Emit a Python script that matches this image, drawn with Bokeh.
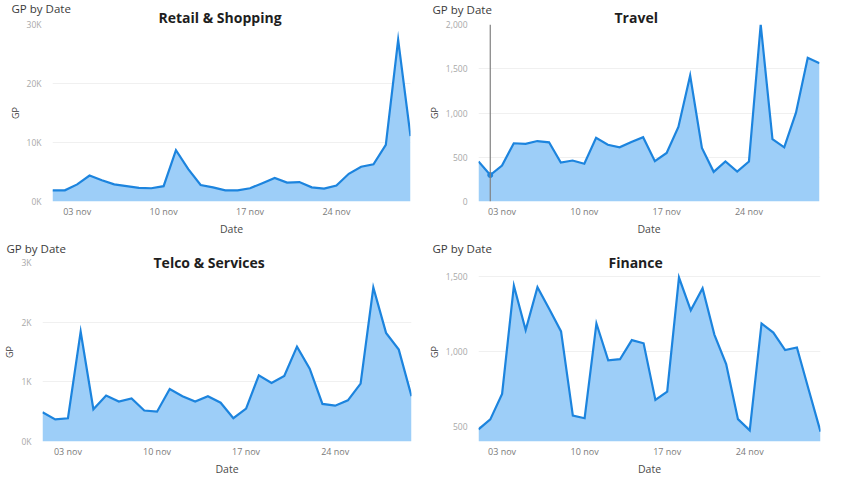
from bokeh.plotting import figure
from bokeh.layouts import column, row, Spacer
from bokeh.models import Range1d, FixedTicker, Span, Title
from bokeh.embed import file_html
from bokeh.resources import INLINE

# ---------------- data ----------------
days = list(range(1, 31))  # 1..30 November
xtick_days = [3, 10, 17, 24]
xtick_labels = ["03 nov", "10 nov", "17 nov", "24 nov"]

retail_gp = [1900, 1900, 2900, 4400, 3600, 2900, 2600, 2300, 2250, 2600,
             8700, 5500, 2800, 2400, 1900, 1900, 2250, 3100, 4000, 3200,
             3300, 2400, 2200, 2700, 4700, 5900, 6300, 9600, 27400, 11100]
travel_gp = [452, 299, 406, 658, 651, 683, 669, 441, 463, 427,
             719, 641, 612, 673, 726, 456, 548, 843, 1423, 605,
             335, 452, 338, 452, 2000, 705, 612, 1004, 1623, 1562]
telco_gp = [490, 370, 390, 1840, 540, 770, 670, 720, 520, 500,
            880, 760, 670, 760, 650, 390, 550, 1110, 980, 1100,
            1590, 1220, 630, 600, 690, 970, 2580, 1820, 1540, 760]
finance_gp = [479, 545, 715, 1436, 1140, 1425, 1280, 1131, 570, 553,
              1184, 939, 946, 1073, 1052, 675, 730, 1490, 1272, 1419,
              1110, 914, 547, 472, 1184, 1123, 1007, 1024, 743, 464]

retail_yticks = [0, 10000, 20000, 30000]
retail_ylabels = ["0K", "10K", "20K", "30K"]
travel_yticks = [0, 500, 1000, 1500, 2000]
travel_ylabels = ["0", "500", "1,000", "1,500", "2,000"]
telco_yticks = [0, 1000, 2000, 3000]
telco_ylabels = ["0K", "1K", "2K", "3K"]
finance_yticks = [500, 1000, 1500]
finance_ylabels = ["500", "1,000", "1,500"]

hover_day = 2  # highlighted date in the Travel panel

# ---------------- styles ----------------
FONT = "Open Sans"
LINE = "#1C84DE"
FILL = "#9DCEF8"
H_BOLD = 19.0   # approx text box height of the 14px bold title
H_GP = 15.6     # approx text box height of the 11.5px header


def panel(title, values, yticks, ylabels, yrange, w, h,
          mleft, mright, mtop, mbottom, title_left, gp_x,
          h_title, h_gp, gp_valign):
    p = figure(width=w, height=h, output_backend="svg", toolbar_location=None,
               x_range=Range1d(days[0], days[-1]), y_range=Range1d(*yrange),
               min_border_left=mleft, min_border_right=mright,
               min_border_top=mtop, min_border_bottom=mbottom,
               background_fill_color="white", border_fill_color="white")
    p.outline_line_color = None
    p.xgrid.visible = False
    p.ygrid.grid_line_color = "#F0F0F0"
    p.ygrid.ticker = FixedTicker(ticks=yticks)

    p.varea(x=days, y1=yrange[0], y2=values, fill_color=FILL, fill_alpha=1.0)
    p.line(x=days, y=values, line_color=LINE, line_width=2.2, line_join="miter")

    xa = p.xaxis[0]
    xa.ticker = FixedTicker(ticks=xtick_days)
    xa.major_label_overrides = {d: l for d, l in zip(xtick_days, xtick_labels)}
    xa.axis_label = "Date"
    ya = p.yaxis[0]
    ya.ticker = FixedTicker(ticks=yticks)
    ya.major_label_overrides = {t: l for t, l in zip(yticks, ylabels)}
    ya.axis_label = "GP"
    for ax in (xa, ya):
        ax.axis_line_color = None
        ax.major_tick_line_color = None
        ax.minor_tick_line_color = None
        ax.major_tick_out = 0
        ax.major_tick_in = 0
        ax.minor_tick_out = 0
        ax.minor_tick_in = 0
        ax.major_label_text_font = FONT
        ax.axis_label_text_font = FONT
        ax.axis_label_text_font_style = "normal"
    xa.major_label_text_font_size = "9px"
    xa.major_label_text_color = "#7A7A7A"
    xa.major_label_standoff = 3
    xa.axis_label_text_font_size = "10.5px"
    xa.axis_label_text_color = "#4A4A4A"
    xa.axis_label_standoff = 1
    ya.major_label_text_font_size = "8.5px"
    ya.major_label_text_color = "#A8A8A8"
    ya.major_label_standoff = 11
    ya.axis_label_text_font_size = "9px"
    ya.axis_label_text_color = "#3A3A3A"
    ya.axis_label_standoff = 2

    # bold title: panel closest to the frame, bottom-aligned
    t1 = Title(text=title, align="left", vertical_align="bottom", offset=title_left - mleft,
               standoff=h_title - 2 - H_BOLD, text_font=FONT, text_font_size="14px",
               text_font_style="bold", text_color="#1E1E1E")
    # "GP by Date" header: next panel outward
    t2 = Title(text="GP by Date", align="left", vertical_align=gp_valign, offset=gp_x - mleft,
               standoff=h_gp - 2 - H_GP, text_font=FONT, text_font_size="11.5px",
               text_font_style="normal", text_color="#3B3B3B")
    p.add_layout(t1, "above")
    p.add_layout(t2, "above")
    return p


p1 = panel("Retail & Shopping", retail_gp, retail_yticks, retail_ylabels, (0, 30000),
           424, 238, 52, 14, 24, 27, 158, 11, 16.5, 0, "bottom")
p2 = panel("Travel", travel_gp, travel_yticks, travel_ylabels, (0, 2000),
           409, 238, 52, 14, 23, 27, 188, 6, 15.5, 0, "bottom")
p2.add_layout(Span(location=hover_day, dimension="height", line_color="#808080", line_width=1.2))
p2.scatter(x=[hover_day], y=[travel_gp[days.index(hover_day)]], size=5,
           fill_color=LINE, line_color=LINE)
p2.styles = {"outline": "1px solid #DCDCDC", "outline-offset": "-2px"}
p3 = panel("Telco & Services", telco_gp, telco_yticks, telco_ylabels, (0, 3000),
           424, 240, 41, 13, 24, 29, 152, 5, 2, 21.5, "top")
p4 = panel("Finance", finance_gp, finance_yticks, finance_ylabels, (398, 1590),
           425, 240, 53, 29, 24, 29, 183, 7, 2, 21.5, "top")

layout = column(row(p1, p2, Spacer(width=16, height=238), spacing=0),
                row(p3, p4, spacing=0), spacing=0)

open("out.html", "w").write(file_html(layout, INLINE))
